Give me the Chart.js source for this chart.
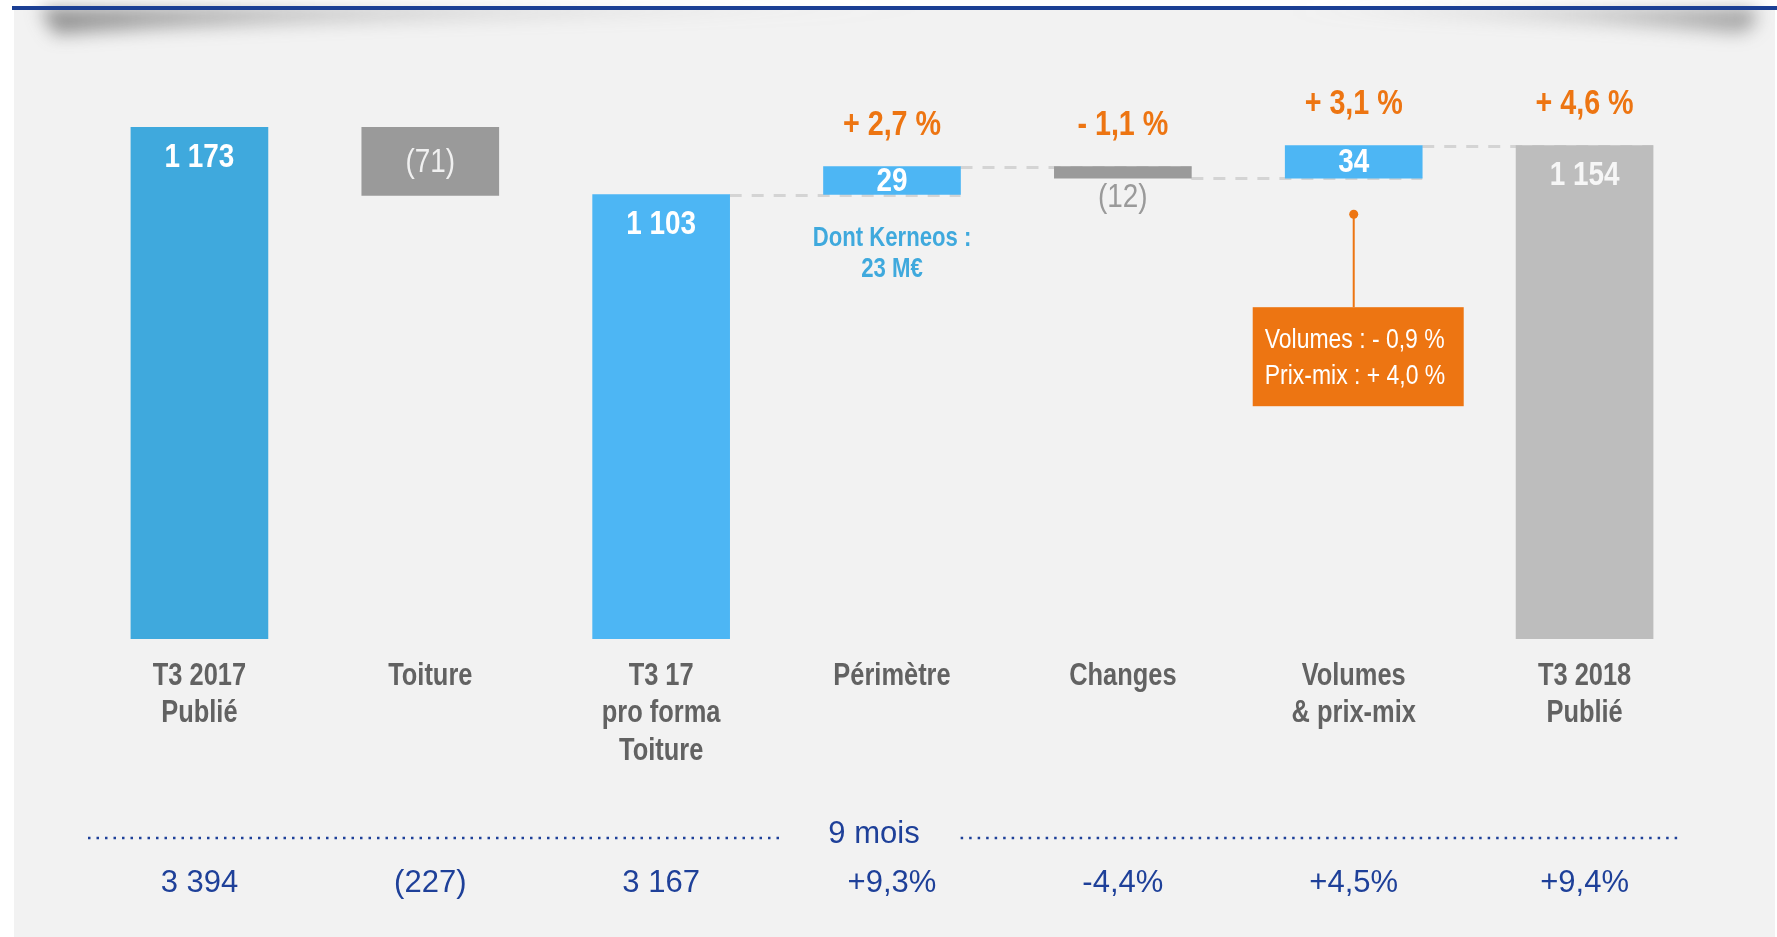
<!DOCTYPE html>
<html>
<head>
<meta charset="utf-8">
<script src="https://cdn.jsdelivr.net/npm/chart.js@4.4.1/dist/chart.umd.min.js"></script>
<style>
  html, body { margin: 0; padding: 0; background: #fff; }
</style>
</head>
<body>
<canvas id="bridge" width="1777" height="937"></canvas>
<script>
const categories = [["T3 2017", "Publié"], "Toiture", ["T3 17", "pro forma", "Toiture"], "Périmètre", "Changes", ["Volumes", "& prix-mix"], ["T3 2018", "Publié"]];
// totals start from the axis base, the others step from the running level
const isTotal = [true, false, true, false, false, false, true];
const q3Values = [1173, -71, 1103, 29, -12, 34, 1154];
const changePct = [null, null, null, "+ 2,7 %", "- 1,1 %", "+ 3,1 %", "+ 4,6 %"];
const nineMonthTitle = "9 mois";
const nineMonths = ["3 394", "(227)", "3 167", "+9,3%", "-4,4%", "+4,5%", "+9,4%"];
const kerneosNote = ["Dont Kerneos :", "23 M€"];
const volumeNote = ["Volumes : - 0,9 %", "Prix-mix : + 4,0 %"];

const Y_MIN = 640, Y_MAX = 1265;
const FONT = "'Liberation Sans', Arial, sans-serif";
const SQUEEZE = 0.82; // no narrow face installed, so squeeze the regular one
const ORANGE = "#ed7512";
const NAVY = "#1e4099";

let level = 0;
const bars = q3Values.map((v, i) => {
  if (isTotal[i]) { level = v; return [Y_MIN, v]; }
  const start = level;
  level += v;
  return [start, level];
});

const fmt = (v) => v < 0 ? "(" + Math.abs(v) + ")" : String(v).replace(/\B(?=(\d{3})+(?!\d))/g, " ");

const barColors = ["#3fa9dd", "#9a9a9a", "#4db6f4", "#4db6f4", "#9a9a9a", "#4db6f4", "#bdbdbd"];

function narrowText(ctx, text, x, y) {
  ctx.save();
  ctx.translate(x, y);
  ctx.scale(SQUEEZE, 1);
  ctx.fillText(text, 0, 0);
  ctx.restore();
}

const bridgeDecor = {
  id: "bridgeDecor",
  beforeDraw(chart) {
    const { ctx, width, height } = chart;
    ctx.save();
    ctx.fillStyle = "#ffffff";
    ctx.fillRect(0, 0, width, height);
    ctx.fillStyle = "#f2f2f2";
    ctx.fillRect(14, 10, width - 16, height - 10);

    // soft shadow under the header rule
    ctx.filter = "blur(9px)";
    let g = ctx.createLinearGradient(30, 0, 1000, 0);
    g.addColorStop(0, "rgba(70,70,70,0.6)");
    g.addColorStop(0.3, "rgba(100,100,100,0.35)");
    g.addColorStop(1, "rgba(130,130,130,0)");
    ctx.fillStyle = g;
    ctx.beginPath();
    ctx.moveTo(40, 8);
    ctx.lineTo(1000, 8);
    ctx.quadraticCurveTo(300, 16, 55, 34);
    ctx.closePath();
    ctx.fill();
    g = ctx.createLinearGradient(1280, 0, 1760, 0);
    g.addColorStop(0, "rgba(130,130,130,0)");
    g.addColorStop(0.7, "rgba(100,100,100,0.35)");
    g.addColorStop(1, "rgba(80,80,80,0.5)");
    ctx.fillStyle = g;
    ctx.beginPath();
    ctx.moveTo(1280, 8);
    ctx.lineTo(1755, 8);
    ctx.quadraticCurveTo(1760, 34, 1730, 32);
    ctx.quadraticCurveTo(1550, 16, 1280, 11);
    ctx.closePath();
    ctx.fill();
    ctx.filter = "none";

    ctx.fillStyle = "#1b3f94";
    ctx.fillRect(12, 6, width - 12, 4);
    ctx.restore();
  },
  beforeDatasetsDraw(chart) {
    const { ctx } = chart;
    const meta = chart.getDatasetMeta(0);
    const y = chart.scales.y;
    ctx.save();
    ctx.strokeStyle = "#d4d4d4";
    ctx.lineWidth = 3;
    ctx.setLineDash([12, 10]);
    for (let i = 2; i < bars.length - 1; i++) {
      const a = meta.data[i], b = meta.data[i + 1];
      const py = Math.round(y.getPixelForValue(bars[i][1])) + 0.5;
      ctx.beginPath();
      ctx.moveTo(a.x + a.width / 2, py);
      ctx.lineTo(b.x + b.width / 2, py);
      ctx.stroke();
    }
    ctx.restore();
  },
  afterDatasetsDraw(chart) {
    const { ctx, chartArea } = chart;
    const meta = chart.getDatasetMeta(0);
    const xs = chart.scales.x;
    ctx.save();
    ctx.textAlign = "center";
    ctx.textBaseline = "middle";

    // category labels
    ctx.font = "bold 31px " + FONT;
    ctx.fillStyle = "#626262";
    categories.forEach((lab, i) => {
      const lines = Array.isArray(lab) ? lab : [lab];
      lines.forEach((t, k) => narrowText(ctx, t, xs.getPixelForValue(i), chartArea.bottom + 37 + k * 37.5));
    });

    meta.data.forEach((bar, i) => {
      const top = Math.min(bar.y, bar.base);
      const bottom = Math.max(bar.y, bar.base);
      const v = q3Values[i];
      if (isTotal[i]) {
        ctx.font = "bold 34px " + FONT;
        ctx.fillStyle = i === 6 ? "#f6f6f6" : "#ffffff";
        narrowText(ctx, fmt(v), bar.x, top + 30);
      } else if (bottom - top >= 20) {
        ctx.font = (v < 0 ? "" : "bold ") + "34px " + FONT;
        ctx.fillStyle = v < 0 ? "#f0f0f0" : "#ffffff";
        narrowText(ctx, fmt(v), bar.x, (top + bottom) / 2 + 1);
      } else {
        ctx.font = "34px " + FONT;
        ctx.fillStyle = "#9a9a9a";
        narrowText(ctx, fmt(v), bar.x, bottom + 19);
      }
      if (changePct[i]) {
        ctx.font = "bold 35px " + FONT;
        ctx.fillStyle = ORANGE;
        narrowText(ctx, changePct[i], bar.x, top - 41);
      }
    });

    // Kerneos note under the scope bar
    const p = meta.data[3];
    const pBottom = Math.max(p.y, p.base);
    ctx.font = "bold 27px " + FONT;
    ctx.fillStyle = "#3fa9dd";
    kerneosNote.forEach((t, k) => narrowText(ctx, t, p.x, pBottom + 44 + k * 31));

    // callout for volumes / price-mix
    const v = meta.data[5];
    const vBottom = Math.max(v.y, v.base);
    const dotY = vBottom + 36, boxTop = vBottom + 129;
    ctx.fillStyle = ORANGE;
    ctx.strokeStyle = ORANGE;
    ctx.lineWidth = 2;
    ctx.beginPath();
    ctx.arc(v.x, dotY, 4.5, 0, Math.PI * 2);
    ctx.fill();
    ctx.beginPath();
    ctx.moveTo(v.x, dotY);
    ctx.lineTo(v.x, boxTop);
    ctx.stroke();
    const boxW = 211, boxH = 99, boxX = v.x - 101;
    ctx.fillRect(boxX, boxTop, boxW, boxH);
    ctx.font = "28px " + FONT;
    ctx.fillStyle = "#ffffff";
    ctx.textAlign = "left";
    volumeNote.forEach((t, k) => narrowText(ctx, t, boxX + 12, boxTop + 33 + k * 36));
    ctx.restore();
  },
  afterDraw(chart) {
    const { ctx, chartArea } = chart;
    const x = chart.scales.x;
    const lineY = chartArea.bottom + 199;
    const titleX = (chartArea.left + chartArea.right) / 2 - 18;
    ctx.save();
    ctx.font = "31px " + FONT;
    ctx.fillStyle = NAVY;
    ctx.textAlign = "center";
    ctx.textBaseline = "middle";
    ctx.fillText(nineMonthTitle, titleX, lineY - 4);
    const half = ctx.measureText(nineMonthTitle).width / 2;
    ctx.strokeStyle = NAVY;
    ctx.lineWidth = 2.5;
    ctx.setLineDash([2.5, 6]);
    ctx.beginPath();
    ctx.moveTo(chartArea.left + 4, lineY);
    ctx.lineTo(titleX - half - 44, lineY);
    ctx.moveTo(titleX + half + 41, lineY);
    ctx.lineTo(chartArea.right - 17, lineY);
    ctx.stroke();
    nineMonths.forEach((t, i) => ctx.fillText(t, x.getPixelForValue(i), chartArea.bottom + 244));
    ctx.restore();
  }
};

new Chart(document.getElementById("bridge").getContext("2d"), {
  type: "bar",
  plugins: [bridgeDecor],
  data: {
    labels: categories,
    datasets: [{
      data: bars,
      backgroundColor: barColors,
      borderWidth: 0,
      barThickness: 137
    }]
  },
  options: {
    responsive: false,
    animation: false,
    layout: { padding: { top: 39, left: 84, right: 77, bottom: 298 } },
    plugins: { legend: { display: false }, tooltip: { enabled: false } },
    scales: {
      x: { display: false },
      y: { display: false, min: Y_MIN, max: Y_MAX }
    }
  }
});
</script>
</body>
</html>
